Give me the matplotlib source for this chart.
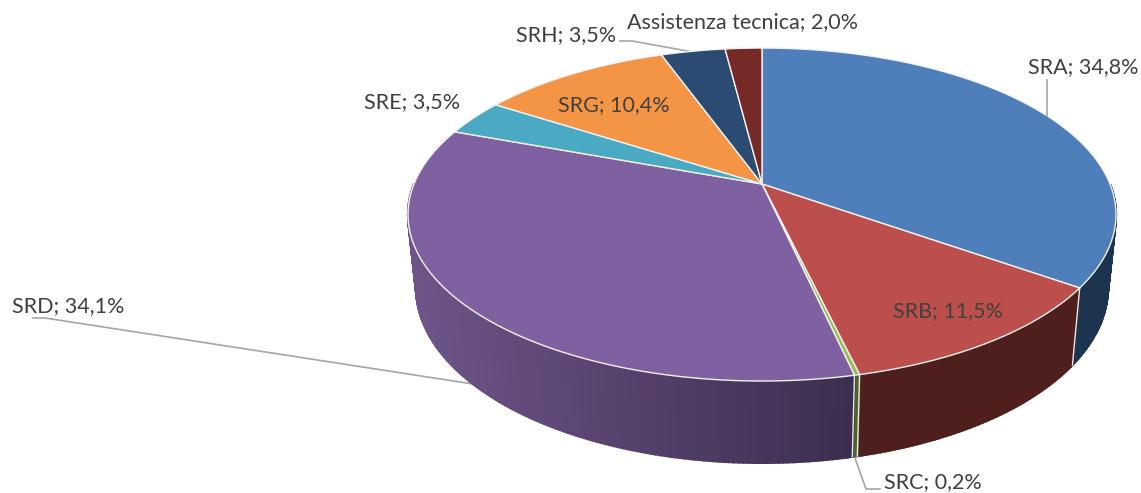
import numpy as np
import matplotlib
matplotlib.use("Agg")
import matplotlib.pyplot as plt
from matplotlib.colors import to_rgb

labels = ['SRA', 'SRB', 'SRC', 'SRD', 'SRE', 'SRG', 'SRH', 'Assistenza tecnica']
values = [34.8, 11.5, 0.2, 34.1, 3.5, 10.4, 3.5, 2.0]
top_colors = ['#4e7fba', '#bc4f4b', '#9bbb59', '#7f60a0', '#4aa9c3', '#f39545', '#2b4b73', '#752a28']
side_left = ['#1d3450', '#4f1f1e', '#4f6228', '#6d5489', '#2a6373', '#9c5a1e', '#1a2e46', '#471a18']
side_right = ['#1d3450', '#4f1f1e', '#4f6228', '#3d2e4f', '#2a6373', '#9c5a1e', '#1a2e46', '#471a18']

# pie geometry in pixels (perspective of a tilted disc)
cx, cy = 762, 184
R, K, P = 348, 160.9, 0.1833
SHRINK, STRETCH, DROP = 0.977, 1.05, 72


def top_ring(theta):
    w = 1 + P * np.cos(theta)
    return cx + R * np.sin(theta) / w, cy - K * np.cos(theta) / w


def bottom_ring(theta):
    x, y = top_ring(theta)
    return cx + (x - cx) * SHRINK, cy + (y - cy) * STRETCH + DROP


fig = plt.figure(figsize=(11.41, 4.93), dpi=100)
ax = fig.add_axes([0, 0, 1, 1])
ax.set_xlim(0, 1141)
ax.set_ylim(493, 0)
ax.axis('off')

edges = np.cumsum([0] + values) / sum(values) * 2 * np.pi

# side wall first, small strips sorted back to front, back half is never seen
strips = []
for i in range(len(values)):
    n = max(int((edges[i + 1] - edges[i]) / 0.012), 2)
    th = np.linspace(edges[i], edges[i + 1], n + 1)
    for a, b in zip(th[:-1], th[1:]):
        if np.cos((a + b) / 2) < 0:
            strips.append((bottom_ring((a + b) / 2)[1], i, a, b))
strips.sort(key=lambda s: s[0])

for _, i, a, b in strips:
    xa, ya = top_ring(a)
    xb, yb = top_ring(b)
    xc, yc = bottom_ring(b)
    xd, yd = bottom_ring(a)
    t = np.clip(((xa + xb) / 2 - 420) / 430, 0, 1)
    col = (1 - t) * np.array(to_rgb(side_left[i])) + t * np.array(to_rgb(side_right[i]))
    ax.fill([xa, xb, xc, xd], [ya, yb, yc, yd], facecolor=col, edgecolor=col, lw=1.6,
            snap=False, zorder=2)

# white lines where the front slices meet on the wall
for e in edges:
    if np.pi * 0.55 < e < np.pi * 1.2:
        xa, ya = top_ring(e)
        xb, yb = bottom_ring(e)
        ax.plot([xa, xb], [ya, yb], color='#e8e8e8', lw=1.0, zorder=3)

# top faces
for i in range(len(values)):
    th = np.linspace(edges[i], edges[i + 1], 200)
    x, y = top_ring(th)
    ax.fill(np.r_[cx, x], np.r_[cy, y], facecolor=top_colors[i], edgecolor='#f2f2f2',
            lw=1.0, joinstyle='round', zorder=4)

# leader lines
grey = '#a6a6a6'
ax.plot([1047, 1047], [80, 116], color=grey, lw=1.2, zorder=5)
ax.plot([880, 866, 855], [489, 489, 458], color=grey, lw=1.2, zorder=5)
ax.plot([33, 45, 473], [318, 318, 384], color=grey, lw=1.2, zorder=1)
ax.plot([620, 632, 693], [41, 41, 52], color=grey, lw=1.2, zorder=1)

# data labels
plt.rcParams['font.family'] = ['Lato', 'DejaVu Sans']
label_pos = [(1028, 67), (893, 311), (884, 482), (12, 306), (364, 102), (558, 105), (516, 35), (627, 22)]
for name, val, (x, y) in zip(labels, values, label_pos):
    txt = f"{name}; {val:.1f}%".replace('.', ',')
    ax.text(x, y, txt, fontsize=15.5, color='#404040', va='center', ha='left', zorder=6)

fig.savefig('out.png', dpi=100, facecolor='white')
